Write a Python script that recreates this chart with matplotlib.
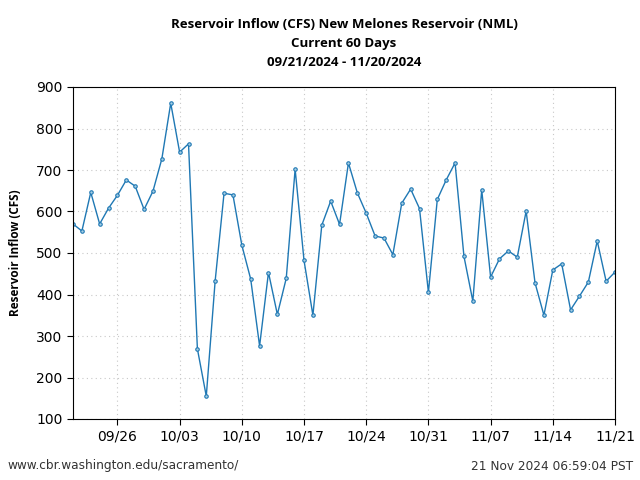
import numpy as np
import pandas as pd
import matplotlib
matplotlib.use('Agg')
import matplotlib.pyplot as plt
import matplotlib.dates as mdates

dates = pd.date_range('2024-09-21', '2024-11-21', freq='D')
inflow = [570, 553, 646, 570, 608, 639, 676, 661, 605, 649,
          727, 861, 743, 763, 269, 155, 433, 644, 640, 519,
          437, 276, 453, 352, 439, 702, 482, 350, 567, 625,
          569, 717, 645, 596, 541, 536, 496, 620, 654, 607,
          405, 629, 676, 717, 492, 384, 652, 442, 486, 505,
          490, 601, 428, 350, 459, 474, 363, 396, 430, 529,
          432, 454]
tick_dates = pd.date_range('2024-09-26', '2024-11-21', freq='7D')

fig = plt.figure(figsize=(6.4, 4.8), dpi=100)
ax = fig.add_axes([73/640, 1-419/480, (615-73)/640, (419-87)/480])

ax.plot(dates, inflow, color='#1f78b4', lw=1, marker='o', ms=2.5,
        mfc='#a6cee3', mec='#1f78b4', mew=0.8)

ax.set_xlim(pd.Timestamp('2024-09-21'), pd.Timestamp('2024-11-21'))
ax.set_ylim(100, 900)
ax.set_yticks(np.arange(100, 901, 100))
ax.set_xticks(tick_dates)
ax.xaxis.set_major_formatter(mdates.DateFormatter('%m/%d'))
ax.tick_params(labelsize=10, direction='out', length=4)
ax.grid(True, color='#c8c8c8', linestyle=(0, (1, 3)), lw=0.8)

ax.set_ylabel('Reservoir Inflow (CFS)', fontsize=8.5, fontweight='bold',
              family='Open Sans', labelpad=10)
ax.set_title('Reservoir Inflow (CFS) New Melones Reservoir (NML)\nCurrent 60 Days\n09/21/2024 - 11/20/2024',
             fontsize=9.5, fontweight='bold', family='Open Sans', pad=15,
             linespacing=1.62)

fig.text(7/640, 1-466/480, 'www.cbr.washington.edu/sacramento/', fontsize=8.75,
         color='#333333', va='center', ha='left')
fig.text(633/640, 1-466/480, '21 Nov 2024 06:59:04 PST', fontsize=8.75,
         color='#333333', va='center', ha='right')

fig.savefig('out.png', dpi=100)
